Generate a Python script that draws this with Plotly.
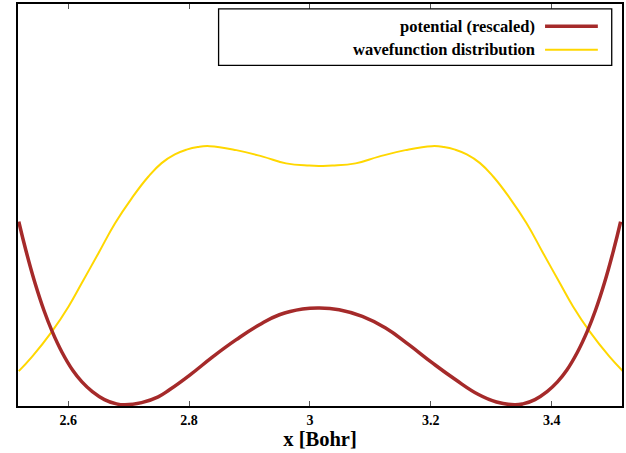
import plotly.graph_objects as go

# Positions along the bond coordinate (Bohr) for the potential curve
x_potential = [2.5183, 2.53, 2.545, 2.56, 2.5733, 2.59, 2.6075, 2.6228, 2.64, 2.66,
               2.68, 2.694, 2.7216, 2.749, 2.7682, 2.8012, 2.8396, 2.8781, 2.9165,
               2.9495, 2.9878, 3.0154, 3.0483, 3.0867, 3.1252, 3.1636, 3.202, 3.2406,
               3.2789, 3.3086, 3.3383, 3.3523, 3.3723, 3.3923, 3.4095, 3.4248, 3.4423,
               3.459, 3.4723, 3.4873, 3.5023, 3.514]
# Rescaled double-well potential
potential = [0.4586, 0.3874, 0.3065, 0.2375, 0.1863, 0.1332, 0.089, 0.060, 0.0358,
             0.016, 0.0052, 0.003, 0.0085, 0.0228, 0.0409, 0.0769, 0.1228, 0.165,
             0.2022, 0.227, 0.2412, 0.2439, 0.2395, 0.2228, 0.194, 0.1526, 0.1079,
             0.0658, 0.0285, 0.0099, 0.003, 0.0052, 0.016, 0.0358, 0.060, 0.089,
             0.1332, 0.1863, 0.2375, 0.3065, 0.3874, 0.4586]

# Positions along the bond coordinate (Bohr) for the wavefunction curve
x_wave = [2.5183, 2.5404, 2.5733, 2.6007, 2.6228, 2.6501, 2.6776, 2.7051, 2.7325,
          2.7546, 2.7765, 2.7958, 2.8144, 2.8341, 2.8781, 2.922, 2.9605, 2.9989,
          3.018, 3.0371, 3.0755, 3.114, 3.1579, 3.2019, 3.2216, 3.2402, 3.2595,
          3.2814, 3.3035, 3.3309, 3.3584, 3.3859, 3.4132, 3.4353, 3.4627, 3.4956,
          3.5177]
# Probability distribution of the wavefunction
wave = [0.0868, 0.1228, 0.1856, 0.2476, 0.3065, 0.3801, 0.4546, 0.5166, 0.5702,
        0.6042, 0.6258, 0.6377, 0.6444, 0.6464, 0.6365, 0.6203, 0.6035, 0.598,
        0.5973, 0.598, 0.6035, 0.6203, 0.6365, 0.6464, 0.6444, 0.6377, 0.6258,
        0.6042, 0.5702, 0.5166, 0.4546, 0.3801, 0.3065, 0.2476, 0.1856, 0.1228,
        0.0868]

x_ticks = [2.6, 2.8, 3.0, 3.2, 3.4]
x_tick_text = ["2.6", "2.8", "3", "3.2", "3.4"]

labels = ["potential (rescaled)", "wavefunction distribution"]
colors = ["#a52a2a", "#ffd700"]
widths = [3.5, 2]

FONT = "Liberation Serif"

fig = go.Figure()
fig.add_trace(go.Scatter(x=x_wave, y=wave, mode="lines", name=labels[1],
                         line=dict(color=colors[1], width=widths[1], shape="spline",
                                   smoothing=1.3)))
fig.add_trace(go.Scatter(x=x_potential, y=potential, mode="lines", name=labels[0],
                         line=dict(color=colors[0], width=widths[0], shape="spline",
                                   smoothing=1.3)))

# Key box in the top-right corner, samples drawn to the right of the text
fig.add_shape(type="rect", xref="paper", yref="paper", x0=0.3321, x1=0.983,
              y0=0.8474, y1=0.988, line=dict(color="black", width=1.3),
              fillcolor="white", layer="above")
key_y = [0.9449, 0.8864]
for lab, col, w, yk in zip(labels, colors, widths, key_y):
    fig.add_annotation(xref="paper", yref="paper", x=0.859, y=yk, text=f"<b>{lab}</b>",
                       showarrow=False, xanchor="right", yanchor="middle",
                       font=dict(family=FONT, size=16.5, color="black"))
    fig.add_shape(type="line", xref="paper", yref="paper", x0=0.8726, x1=0.96,
                  y0=yk, y1=yk, line=dict(color=col, width=w), layer="above")

fig.update_layout(
    width=626, height=453,
    margin=dict(l=17.5, r=1.7, t=3.5, b=46.5),
    plot_bgcolor="white", paper_bgcolor="white",
    showlegend=False,
    font=dict(family=FONT, color="black"),
    xaxis=dict(range=[2.517, 3.5163], tickvals=x_ticks, ticktext=x_tick_text,
               ticks="inside", ticklen=5, tickcolor="#555", tickwidth=1,
               showline=True, linecolor="black", linewidth=2, mirror="ticks",
               showgrid=False, zeroline=False,
               tickfont=dict(family=FONT, size=14, color="black", weight="bold"),
               title=dict(text="<b>x [Bohr]</b>", font=dict(family=FONT, size=20.5),
                          standoff=5)),
    yaxis=dict(range=[0, 1], showticklabels=False, ticks="",
               showline=True, linecolor="black", linewidth=2, mirror=True,
               showgrid=False, zeroline=False),
)

fig.write_html("out.html")
